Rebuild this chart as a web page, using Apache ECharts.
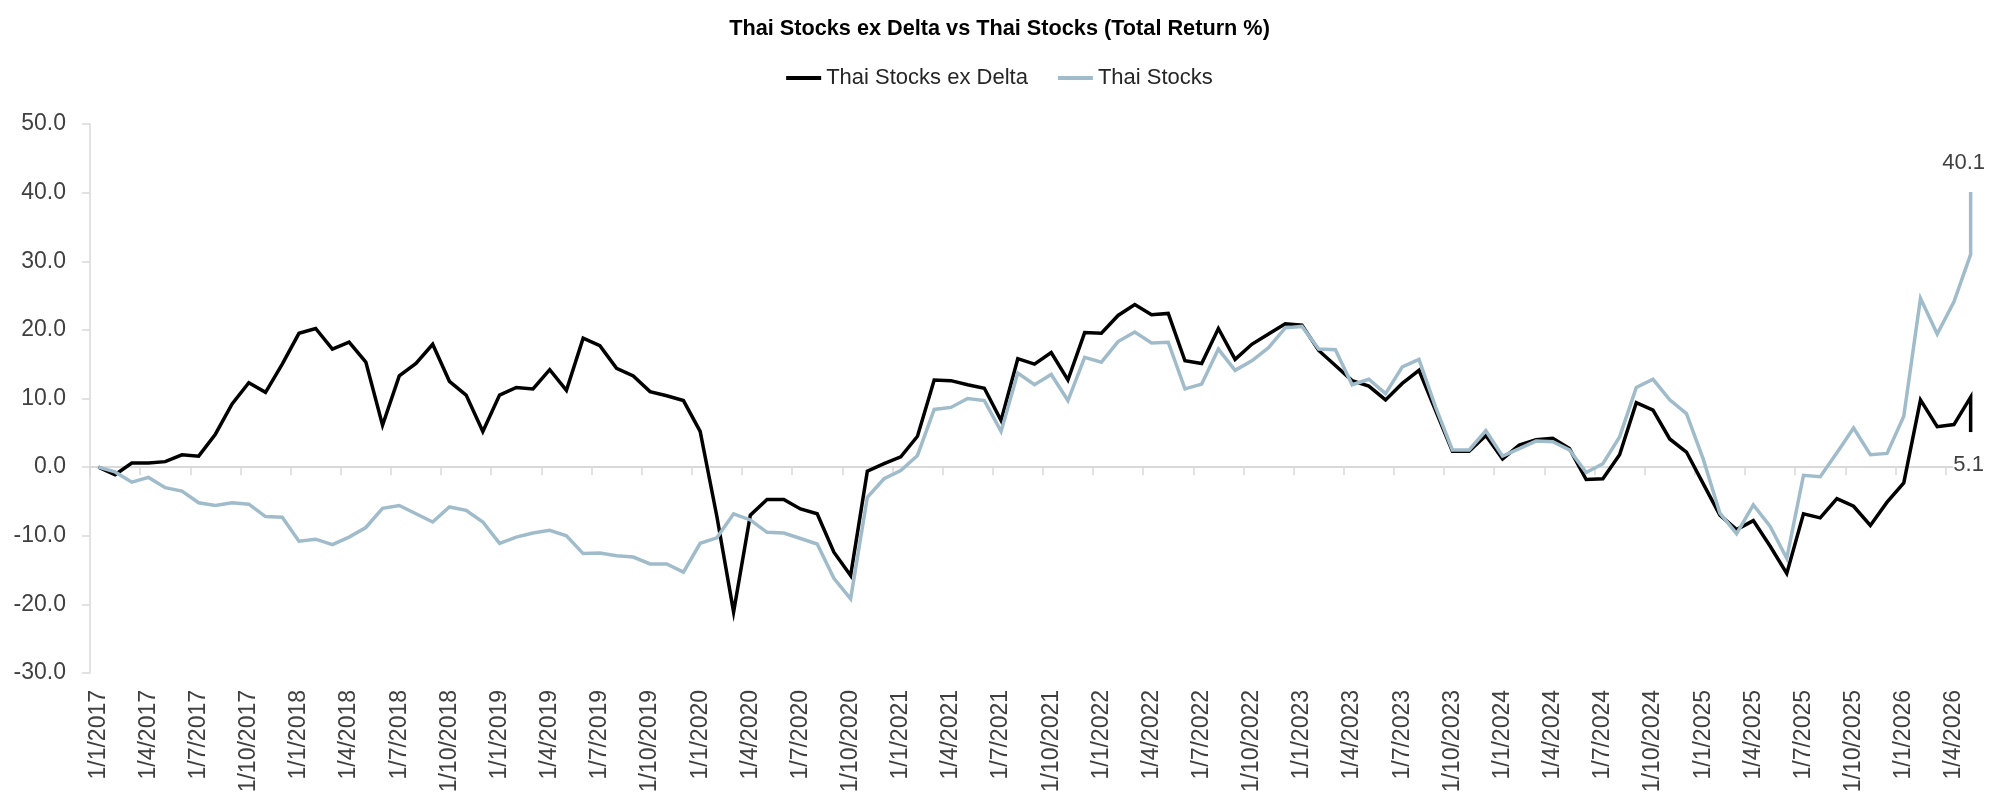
<!DOCTYPE html>
<html>
<head>
<meta charset="utf-8">
<title>Thai Stocks ex Delta vs Thai Stocks</title>
<script src="https://cdn.jsdelivr.net/npm/echarts@6/dist/echarts.min.js"></script>
<style>
  html, body { margin: 0; padding: 0; background: #fff; }
  #returnChart { width: 1999px; height: 810px; }
</style>
</head>
<body>
<div id="returnChart"></div>
<script>
// month labels (d/m/yyyy)
const months = [
  '1/1/2017', '1/2/2017', '1/3/2017', '1/4/2017', '1/5/2017', '1/6/2017', '1/7/2017', '1/8/2017', '1/9/2017', '1/10/2017', '1/11/2017', '1/12/2017',
  '1/1/2018', '1/2/2018', '1/3/2018', '1/4/2018', '1/5/2018', '1/6/2018', '1/7/2018', '1/8/2018', '1/9/2018', '1/10/2018', '1/11/2018', '1/12/2018',
  '1/1/2019', '1/2/2019', '1/3/2019', '1/4/2019', '1/5/2019', '1/6/2019', '1/7/2019', '1/8/2019', '1/9/2019', '1/10/2019', '1/11/2019', '1/12/2019',
  '1/1/2020', '1/2/2020', '1/3/2020', '1/4/2020', '1/5/2020', '1/6/2020', '1/7/2020', '1/8/2020', '1/9/2020', '1/10/2020', '1/11/2020', '1/12/2020',
  '1/1/2021', '1/2/2021', '1/3/2021', '1/4/2021', '1/5/2021', '1/6/2021', '1/7/2021', '1/8/2021', '1/9/2021', '1/10/2021', '1/11/2021', '1/12/2021',
  '1/1/2022', '1/2/2022', '1/3/2022', '1/4/2022', '1/5/2022', '1/6/2022', '1/7/2022', '1/8/2022', '1/9/2022', '1/10/2022', '1/11/2022', '1/12/2022',
  '1/1/2023', '1/2/2023', '1/3/2023', '1/4/2023', '1/5/2023', '1/6/2023', '1/7/2023', '1/8/2023', '1/9/2023', '1/10/2023', '1/11/2023', '1/12/2023',
  '1/1/2024', '1/2/2024', '1/3/2024', '1/4/2024', '1/5/2024', '1/6/2024', '1/7/2024', '1/8/2024', '1/9/2024', '1/10/2024', '1/11/2024', '1/12/2024',
  '1/1/2025', '1/2/2025', '1/3/2025', '1/4/2025', '1/5/2025', '1/6/2025', '1/7/2025', '1/8/2025', '1/9/2025', '1/10/2025', '1/11/2025', '1/12/2025',
  '1/1/2026', '1/2/2026', '1/3/2026', '1/4/2026', '1/5/2026'
];

// Thai Stocks ex Delta, total return %
const exDelta = [
  0.0, -1.1, 0.6, 0.6, 0.8, 1.8, 1.6, 4.8, 9.2, 12.3, 10.9, 15.0,
  19.5, 20.2, 17.2, 18.2, 15.3, 6.1, 13.3, 15.1, 17.9, 12.5, 10.5, 5.2,
  10.5, 11.6, 11.4, 14.2, 11.2, 18.8, 17.7, 14.4, 13.3, 11.0, 10.4, 9.7,
  5.2, -7.2, -21.1, -7.0, -4.7, -4.7, -6.1, -6.8, -12.4, -15.8, -0.6, 0.5,
  1.5, 4.5, 12.7, 12.6, 12.0, 11.5, 6.8, 15.8, 15.0, 16.7, 12.7, 19.6,
  19.5, 22.1, 23.7, 22.2, 22.4, 15.5, 15.1, 20.2, 15.7, 17.9, 19.4, 20.9,
  20.7, 17.0, 14.8, 12.6, 11.8, 9.8, 12.2, 14.1, 8.2, 2.3, 2.3, 4.6,
  1.2, 3.2, 4.0, 4.2, 2.7, -1.8, -1.7, 1.8, 9.4, 8.3, 4.1, 2.2,
  -2.4, -7.0, -9.1, -7.8, -11.5, -15.5, -6.8, -7.4, -4.6, -5.7, -8.5, -5.1,
  -2.3, 9.8, 5.9, 6.2, 10.2
];
const exDeltaLatest = 5.1;

// Thai Stocks, total return %
const thaiStocks = [
  0.0, -0.7, -2.2, -1.5, -3.0, -3.5, -5.2, -5.6, -5.2, -5.4, -7.2, -7.3,
  -10.8, -10.5, -11.3, -10.2, -8.8, -6.0, -5.6, -6.8, -8.0, -5.8, -6.3, -8.0,
  -11.1, -10.2, -9.6, -9.2, -10.0, -12.6, -12.5, -12.9, -13.1, -14.1, -14.1, -15.3,
  -11.1, -10.3, -6.8, -7.7, -9.5, -9.6, -10.4, -11.2, -16.2, -19.2, -4.4, -1.7,
  -0.5, 1.7, 8.4, 8.7, 10.0, 9.7, 5.2, 13.7, 12.0, 13.5, 9.7, 16.0,
  15.3, 18.3, 19.7, 18.1, 18.2, 11.4, 12.1, 17.2, 14.1, 15.5, 17.4, 20.3,
  20.5, 17.2, 17.1, 12.0, 12.8, 10.7, 14.6, 15.7, 8.7, 2.5, 2.5, 5.3,
  1.6, 2.7, 3.8, 3.7, 2.5, -0.8, 0.5, 4.4, 11.6, 12.8, 9.8, 7.8,
  1.2, -6.7, -9.7, -5.5, -8.6, -13.3, -1.2, -1.4, 2.1, 5.7, 1.8, 2.0,
  7.4, 24.6, 19.4, 24.1, 31.0
];
const thaiLatest = 40.1;

const yTicks = { min: -30, max: 50, step: 10 };

const FONT = '"Liberation Sans", Arial, sans-serif';
const lastIdx = months.length - 1;

// month-end points plus the latest reading, drawn in the last month's slot
function toPoints(values, latest) {
  const pts = values.map((v, i) => [i, v]);
  pts.push([lastIdx, latest]);
  return pts;
}

const chart = echarts.init(document.getElementById('returnChart'), null, { renderer: 'canvas' });

chart.setOption({
  animation: false,
  backgroundColor: '#fff',
  title: {
    text: 'Thai Stocks ex Delta vs Thai Stocks (Total Return %)',
    left: 'center',
    top: 18,
    padding: 0,
    textStyle: { fontFamily: FONT, fontWeight: 'bold', fontSize: 21.7, color: '#000' }
  },
  legend: {
    top: 67,
    left: 'center',
    icon: 'rect',
    itemWidth: 35,
    itemHeight: 4,
    itemGap: 30,
    padding: 0,
    textStyle: { fontFamily: FONT, fontSize: 22, color: '#262626' },
    data: ['Thai Stocks ex Delta', 'Thai Stocks']
  },
  grid: { left: 90, right: 20, top: 124, bottom: 137 },
  xAxis: [
    {
      // zero line with quarter ticks
      type: 'category',
      data: months,
      boundaryGap: true,
      axisLine: { onZero: true, lineStyle: { color: '#d9d9d9', width: 2 } },
      axisTick: { show: true, interval: 2, length: 8, lineStyle: { color: '#d9d9d9', width: 1.5 } },
      axisLabel: { show: false },
      splitLine: { show: false }
    },
    {
      // labels along the bottom
      type: 'category',
      data: months,
      position: 'bottom',
      boundaryGap: true,
      axisLine: { show: false, onZero: false },
      axisTick: { show: false },
      axisLabel: {
        interval: 2,
        rotate: 90,
        margin: 17,
        fontFamily: FONT,
        fontSize: 23,
        color: '#404040'
      },
      splitLine: { show: false }
    }
  ],
  yAxis: {
    type: 'value',
    min: yTicks.min,
    max: yTicks.max,
    interval: yTicks.step,
    axisLine: { show: true, lineStyle: { color: '#d9d9d9', width: 1.5 } },
    axisTick: { show: true, length: 8, lineStyle: { color: '#d9d9d9', width: 1.5 } },
    splitLine: { show: false },
    axisLabel: {
      margin: 24,
      fontFamily: FONT,
      fontSize: 23,
      color: '#404040',
      formatter: v => v.toFixed(1)
    }
  },
  series: [
    {
      name: 'Thai Stocks ex Delta',
      type: 'line',
      xAxisIndex: 0,
      data: toPoints(exDelta, exDeltaLatest),
      symbol: 'none',
      lineStyle: { color: '#000000', width: 3.5, join: 'miter' },
      itemStyle: { color: '#000000' },
      endLabel: {
        show: true,
        distance: 0,
        align: 'center',
        verticalAlign: 'top',
        padding: [22, 4, 2, 0],
        backgroundColor: '#fff',
        fontFamily: FONT,
        fontSize: 22,
        color: '#404040',
        formatter: p => p.value[1].toFixed(1)
      }
    },
    {
      name: 'Thai Stocks',
      type: 'line',
      xAxisIndex: 0,
      data: toPoints(thaiStocks, thaiLatest),
      symbol: 'none',
      lineStyle: { color: '#a0bccb', width: 3.5, join: 'miter' },
      itemStyle: { color: '#a0bccb' },
      endLabel: {
        show: true,
        distance: 0,
        align: 'center',
        verticalAlign: 'bottom',
        padding: [0, 14, 18, 0],
        fontFamily: FONT,
        fontSize: 22,
        color: '#404040',
        formatter: p => p.value[1].toFixed(1)
      }
    }
  ]
});
</script>
</body>
</html>
